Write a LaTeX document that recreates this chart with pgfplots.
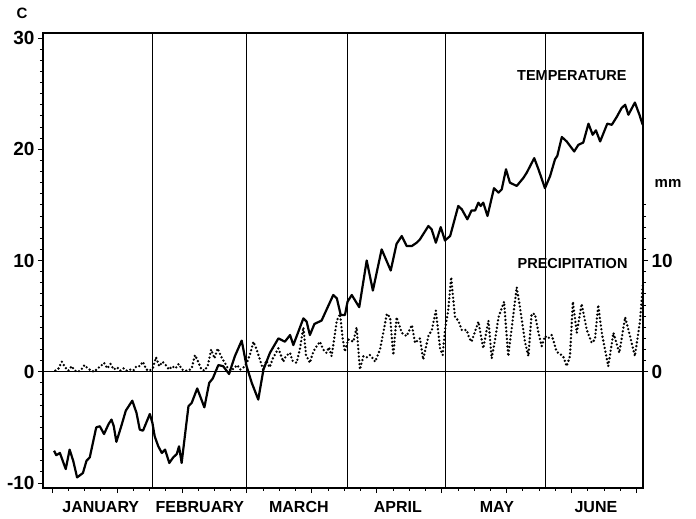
\documentclass[border=0pt]{standalone}
\usepackage{fontspec}
\setmainfont{Liberation Sans}
\usepackage{pgfplots}
\pgfplotsset{compat=1.18}
\begin{document}
\begin{tikzpicture}
\pgfplotsset{
  every axis/.append style={
    scale only axis, width=600pt, height=455pt,
    xmin=-2.8, xmax=182, ymin=-10.45, ymax=30.45,
    tick align=outside,
    /pgf/number format/assume math mode=true,
    tick label style={font=\fontsize{19}{19}\selectfont\bfseries},
    major tick length=5pt, minor tick length=3pt,
    tick style={black, line width=0.8pt},
  }
}
\begin{axis}[
    axis line style={line width=1.6pt},
    xtick={0,20,...,180}, minor x tick num=3, xticklabels={},
    xtick pos=bottom,
    ytick={-10,0,10,20,30}, minor y tick num=9, ytick pos=left,
    extra x ticks={15,45.5,76,106.5,137,167.5},
    extra x tick labels={JANUARY,FEBRUARY,MARCH,APRIL,MAY,JUNE},
    extra x tick style={major tick length=0pt,
      tick label style={font=\fontsize{16}{16}\selectfont\bfseries, yshift=-10pt}},
    clip=false,
]
% month boundaries and zero line
\draw[line width=0.8pt] (axis cs:31,-10.45) -- (axis cs:31,30.45);
\draw[line width=0.8pt] (axis cs:60,-10.45) -- (axis cs:60,30.45);
\draw[line width=0.8pt] (axis cs:91,-10.45) -- (axis cs:91,30.45);
\draw[line width=0.8pt] (axis cs:121,-10.45) -- (axis cs:121,30.45);
\draw[line width=0.8pt] (axis cs:152,-10.45) -- (axis cs:152,30.45);
\draw[line width=1.4pt] (axis cs:-2.8,0) -- (axis cs:182,0);

% temperature, C
\addplot[black, line width=2.2pt, line join=round] coordinates {
(0.6,-7.1) (1.3,-7.5) (2.4,-7.3) (2.9,-7.7) (4.2,-8.75) (5.4,-7.0) (6.5,-8.0)
(7.7,-9.5) (9.5,-9.1) (10.6,-8.0) (11.6,-7.7) (13.6,-5.0) (14.7,-4.9) (16,-5.6)
(17.4,-4.7) (18.3,-4.3) (19,-4.9) (19.8,-6.3) (21.3,-4.9) (22.7,-3.5) (24.7,-2.6)
(26,-3.7) (27,-5.2) (28,-5.3) (30.1,-3.8) (30.9,-4.6) (31.6,-5.8) (32.7,-6.7)
(33.8,-7.3) (34.8,-7.0) (36.1,-8.2) (37.3,-7.7) (38.4,-7.4) (39.1,-6.7) (39.9,-8.2)
(42,-3.1) (43,-2.8) (44.7,-1.5) (46.9,-3.2) (48.4,-1.0) (49.5,-0.6) (51.2,0.6)
(52.7,0.5) (54.5,-0.2) (56.3,1.4) (58.4,2.8) (59.9,0.5) (61.5,-1.0) (63.5,-2.5)
(65.1,0.2) (67.1,1.7) (69.7,3.0) (71.7,2.7) (73.3,3.3) (74.3,2.4) (77.4,4.8)
(78.4,4.5) (79.4,3.3) (80.8,4.3) (83,4.6) (86.6,6.9) (87.7,6.6) (88.9,5.1)
(90.2,5.1) (91,6.3) (92.3,6.9) (94.6,5.8) (96.9,10.0) (98.8,7.3) (101.5,11.0)
(104.3,9.1) (106.1,11.5) (107.7,12.2) (109.2,11.3) (110.8,11.3) (112.3,11.6)
(113.3,11.9) (115.9,13.1) (116.9,12.8) (118.2,11.6) (119.7,13.0) (121,11.8)
(122.6,12.2) (125.1,14.9) (126.2,14.6) (127.9,13.7) (129.2,14.5) (130.3,14.5)
(131.3,15.2) (132,14.9) (132.8,15.2) (134.1,14.0) (136.1,16.5) (137.5,16.1)
(138.5,16.4) (139.8,18.2) (141,17.0) (143.1,16.7) (145.1,17.4) (146.2,17.9)
(148.5,19.2) (149.8,18.2) (151.8,16.5) (153.4,17.6) (154.9,19.1) (155.6,19.4)
(157,21.1) (158.5,20.7) (160.8,19.8) (162.1,20.4) (163.6,20.6) (165.2,22.3)
(166.5,21.3) (167.5,21.7) (168.8,20.7) (171,22.3) (172.4,22.2) (173.9,22.9)
(175.4,23.7) (176.5,24.0) (177.5,23.1) (179.5,24.2) (180.9,23.1) (181.9,22.2)
};

% precipitation, mm (same scale as C)
\addplot[black, line width=2.6pt, line cap=round, dash pattern=on 0pt off 3.8pt] coordinates {
(1,0.1) (2,0.3) (3,0.9) (4,0.4) (5,0.1) (6,0.5) (7,0.1) (8,0) (9,0.2) (10,0.6)
(11,0.3) (12,0.1) (13,0) (14,0.3) (15,0.5) (16,0.8) (17,0.3) (18,0.7) (19,0.2)
(20,0.4) (21,0.1) (22,0.3) (23,0.1) (24,0.2) (25,0.1) (26,0.5) (27,0.5) (28,0.9)
(29,0.2) (30,0.1) (31,0.3) (32,1.3) (33,0.5) (34,0.9) (35,0.6) (36,0.2) (37,0.5)
(38,0.3) (39,0.7) (40,0.2) (41,0.1) (42,0.1) (43,0.3) (44,1.5) (45,0.9) (46,0.2)
(47,0.1) (48,0.6) (49,2.0) (50,1.2) (51,2.1) (52,1.4) (53,0.9) (54,0.4) (55,0.1)
(56,0.3) (57,0.6) (58,0.2) (59,0.4) (60,0.8) (61,1.6) (62,2.7) (63,2.0)
(64,1.1) (65,0.2) (66,1.0) (67,0.4) (68,1.2) (69.7,2.1) (71.2,0.9) (72,1.4)
(73.3,1.7) (74,1.0) (75.3,0.8) (76.3,2.0) (77.4,4.0) (78.2,1.5) (79.4,0.8)
(80.2,1.6) (81,2.1) (82.5,2.7) (83.5,2.0) (84.5,1.7) (85.3,2.2) (86.1,1.4)
(87.7,4.6) (88.7,5.2) (89.5,3.0) (90.2,1.8) (91.2,2.9) (92.8,2.7) (93.8,4.0)
(94.8,0.2) (95.9,1.4) (97,1.3) (97.9,1.5) (98.8,1.2) (99.5,0.9) (101,2.0)
(102,3.5) (103.1,5.2) (104.1,4.9) (105.1,1.5) (106.1,4.9) (107.7,3.5) (109.2,3.2)
(110.8,4.2) (111.8,2.6) (113.3,3.0) (114.3,1.1) (115.9,3.2) (117,3.8) (118.2,5.5)
(119.5,2.1) (120.3,1.5) (121,3.75) (122,5.5) (122.9,8.5) (124.1,4.9) (125.1,4.6)
(126.2,3.75) (127.7,3.75) (128.5,3.0) (129.2,2.7) (131.3,4.5) (132.8,2.1)
(134.4,4.6) (135.4,1.2) (136.5,3.0) (137.5,4.9) (139.2,6.3) (140.5,1.4)
(141.8,4.5) (143.1,7.6) (144.1,5.8) (145.7,2.6) (146.7,1.4) (147.7,5.2)
(148.7,5.2) (149.8,3.5) (150.8,2.3) (151.8,3.2) (152.8,3.0) (153.9,3.3)
(155.4,1.8) (157.4,1.4) (158.5,0.5) (159.5,1.4) (160.4,6.3) (161.6,3.5)
(163.1,6.1) (164.7,3.75) (166.2,2.6) (167.2,2.9) (168.2,6.0) (169.3,3.5)
(170.3,2.0) (171.3,0.5) (172.9,3.5) (174.7,1.7) (176.5,4.9) (178,3.2)
(179.5,1.4) (181.1,4.6) (182,8.0)
};

\node[anchor=east, font=\fontsize{14.5}{14.5}\selectfont\bfseries] at (axis cs:178,26.6) {TEMPERATURE};
\node[anchor=east, font=\fontsize{14.5}{14.5}\selectfont\bfseries] at (axis cs:178.3,9.7) {PRECIPITATION};
\node[font=\fontsize{15}{15}\selectfont\bfseries] at ([xshift=-21pt,yshift=20pt]rel axis cs:0,1) {C};
\node[font=\fontsize{15}{15}\selectfont\bfseries] at ([xshift=25pt]axis cs:182,16.9) {mm};
\end{axis}
\begin{axis}[
    axis x line=none, axis y line*=right,
    axis line style={line width=1.6pt},
    ytick={0,10}, minor ytick={1,...,9,11,12,13,14,15},
]
\end{axis}
\path (-43pt,-31pt) rectangle (653pt,488pt);
\end{tikzpicture}
\end{document}
